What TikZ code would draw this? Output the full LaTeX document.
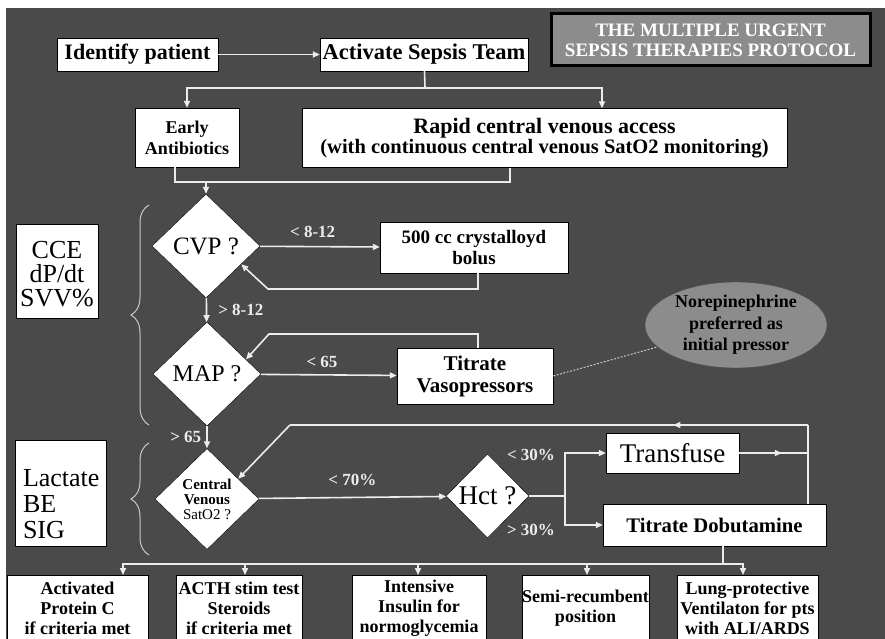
\documentclass[tikz,border=0pt]{standalone}
\usepackage{fontspec}
\setmainfont{Liberation Serif}
\usetikzlibrary{shapes.geometric,arrows.meta,decorations.pathreplacing,decorations.markings,calc}
\definecolor{panel}{RGB}{74,74,74}
\definecolor{titlegray}{RGB}{140,140,140}
\definecolor{wire}{RGB}{236,236,236}
\newcommand{\sepsisfont}[2]{\fontsize{#1}{#2}\selectfont}
\tikzset{%
	sepsis box/.style={
		rectangle,
		draw=black,
		fill=white,
		align=center,
		inner sep=0pt
	},
	sepsis test/.style={
		diamond,
		draw=black,
		fill=white,
		align=center,
		inner sep=0pt,
		minimum width=108pt,
		minimum height=104pt
	},
	sepsis line/.style={draw=wire, line width=1.6pt},
	sepsis flow/.style={sepsis line, -{Triangle[length=7pt,width=6pt]}},
	sepsis cond/.style={text=wire, inner sep=1pt, font=\sepsisfont{17}{20}\bfseries},
	sepsis brace/.style={draw=wire!85!black, line width=1pt, decorate, decoration={brace,amplitude=18pt}},
	mid arrow/.style={postaction={decorate}, decoration={markings, mark=at position #1 with {\arrow{Triangle[length=7pt,width=6pt]}}}},
}

\begin{document}
\begin{tikzpicture}[x=1pt,y=-1pt]
		\useasboundingbox (0,0) rectangle (885,639);
		\fill[white] (0,0) rectangle (885,639);
		\fill[panel] (6,8) rectangle (885,639);

		% Title
		\node[draw=black, line width=3pt, fill=titlegray, text=white, align=center, inner sep=0pt,
			minimum width=319pt, minimum height=52pt, font=\sepsisfont{19}{20}\bfseries]
			(title) at (710.5,40) {THE MULTIPLE URGENT\\SEPSIS THERAPIES PROTOCOL};

		% Start
		\node[sepsis box, minimum width=161pt, minimum height=33pt, font=\sepsisfont{22}{25}\bfseries] (identify) at (137.5,54.5) {Identify patient};
		\node[sepsis box, minimum width=208pt, minimum height=33pt, font=\sepsisfont{22.5}{25}\bfseries] (activate) at (424,54.5) {Activate Sepsis Team};
		\node[sepsis box, minimum width=104pt, minimum height=59pt, font=\sepsisfont{18}{21}\bfseries] (antibiotics) at (187,137.5) {Early\\Antibiotics};
		\node[sepsis box, minimum width=485pt, minimum height=59pt, font=\bfseries] (rapid) at (544.5,138)
			{{\sepsisfont{22}{22}Rapid central venous access}\\{\sepsisfont{20.5}{21}(with continuous central venous SatO2 monitoring)}};

		% Resuscitation
		\node[sepsis box, minimum width=82pt, minimum height=94pt, font=\sepsisfont{26}{24}] (cce) at (57,271) {\rule{0pt}{24pt}CCE\\dP/dt\\SVV\%};
		\node[sepsis test, font=\sepsisfont{25}{30}] (cvp) at (206,246) {CVP ?};
		\node[sepsis box, minimum width=188pt, minimum height=51pt, font=\sepsisfont{19}{21}\bfseries] (bolus) at (474,247.5) {500 cc crystalloyd\\bolus};
		\node[sepsis test, font=\sepsisfont{24}{26}] (map) at (207,374) {MAP ?};
		\node[sepsis box, minimum width=156pt, minimum height=56pt, font=\sepsisfont{21}{22}\bfseries] (vaso) at (475,376) {Titrate\\Vasopressors};
		\node[ellipse, draw=black!70, fill=titlegray, align=center, inner sep=0pt, minimum width=182pt, minimum height=86pt,
			font=\sepsisfont{18}{21.5}\bfseries] (nore) at (736,325) {Norepinephrine\\preferred as\\initial pressor};

		% Oxygen delivery
		\node[sepsis box, align=left, text width=75pt, inner xsep=8pt, minimum height=106pt, font=\sepsisfont{26}{26}] (lactate) at (60.5,493) {\rule{0pt}{40pt}Lactate\\BE\\SIG};
		\node[sepsis test, minimum width=104pt, minimum height=101pt, font=\sepsisfont{15}{15}\bfseries] (cvsat) at (207,499) {Central\\Venous\\{\mdseries SatO2 ?}};
		\node[sepsis test, minimum width=83pt, minimum height=84pt, font=\sepsisfont{27}{30}] (hct) at (487.5,496) {Hct ?};
		\node[sepsis box, minimum width=133pt, minimum height=40pt, font=\sepsisfont{27}{30}] (transfuse) at (672.5,453) {Transfuse};
		\node[sepsis box, minimum width=223pt, minimum height=42pt, font=\sepsisfont{20.7}{24}\bfseries] (dobutamine) at (714.5,525) {Titrate Dobutamine};

		% Therapies
		\foreach \m/\cx/\w/\txt in {
			1/77.5/141/{Activated\\Protein C\\if criteria met},
			2/239/126/{ACTH stim test\\Steroids\\if criteria met},
			3/419/134/{Intensive\\Insulin for\\normoglycemia},
			4/585.5/127/{Semi-recumbent\\position},
			5/747.5/141/{Lung-protective\\Ventilaton for pts\\with ALI/ARDS}}
		\node[sepsis box, anchor=north, minimum width=\w pt, minimum height=66pt, font=\sepsisfont{18}{20}\bfseries] (therapy-\m) at (\cx,575) {\txt};

		% Braces
		\draw[sepsis brace] (149,425) -- (149,205);
		\draw[sepsis brace] (149,555) -- (149,443);

		% Edges
		\coordinate (fork) at (425,88);
		\coordinate (join) at (206,182);
		\draw[sepsis flow] (identify) -- (activate);
		\draw[sepsis line] (activate) -- (fork);
		\draw[sepsis flow] (fork) -| (antibiotics);
		\draw[sepsis flow] (fork) -| ([xshift=57.5pt]rapid.north);
		\draw[sepsis line] ([xshift=-12pt]antibiotics.south) |- (join);
		\draw[sepsis line] ([xshift=-34.5pt]rapid.south) |- (join);
		\draw[sepsis flow] (join) -- (cvp);

		\coordinate (cvp-loop) at (268,289);
		\coordinate (map-loop) at (269,334);
		\draw[sepsis flow] (cvp) -- node[sepsis cond, above=7pt, pos=0.44] {< 8-12} (bolus);
		\draw[sepsis flow] ([xshift=4pt]bolus.south) |- (cvp-loop) -- ($(cvp.east)!0.35!(cvp.south)$);
		\draw[sepsis flow] (cvp) -- node[sepsis cond, right=10pt] {> 8-12} (map);
		\draw[sepsis flow] (map) -- node[sepsis cond, above=5pt, pos=0.45] {< 65} (vaso);
		\draw[sepsis flow] ([xshift=3pt]vaso.north) |- (map-loop) -- ($(map.north)!0.72!(map.east)$);
		\draw[wire!90!black, line width=0.9pt, dash pattern=on 2pt off 1.5pt] (vaso.east) -- (nore);
		\draw[sepsis flow] (map) -- node[sepsis cond, left=4pt] {> 65} (cvsat);

		\coordinate (hct-fork) at (565,496);
		\coordinate (loop-east) at (808,453);
		\coordinate (loop-ne) at (808,425);
		\coordinate (loop-nw) at (290,425);
		\draw[sepsis flow] (cvsat) -- node[sepsis cond, above=10pt] {< 70\%} (hct);
		\draw[sepsis line] (hct) -- (hct-fork);
		\draw[sepsis flow] (hct-fork) |- (transfuse) node[sepsis cond] at (531,455) {< 30\%};
		\draw[sepsis flow] (hct-fork) |- (dobutamine) node[sepsis cond] at (531,530) {> 30\%};
		\draw[sepsis line, mid arrow=0.62] (transfuse) -- (loop-east);
		\draw[sepsis line] (dobutamine.north -| loop-ne) -- (loop-ne);
		\draw[sepsis line, mid arrow=0.26] (loop-ne) -- (loop-nw);
		\draw[sepsis flow] (loop-nw) -- ($(cvsat.north)!0.6!(cvsat.east)$);

		\coordinate (bus) at (723,564);
		\draw[sepsis line] (dobutamine.south -| bus) -- (bus);
		\foreach \m/\dx in {1/45.5,2/6,3/-1,4/1.5,5/-4.5}
		\draw[sepsis flow] (bus) -| ([xshift=\dx pt]therapy-\m.north);
\end{tikzpicture}
\end{document}
